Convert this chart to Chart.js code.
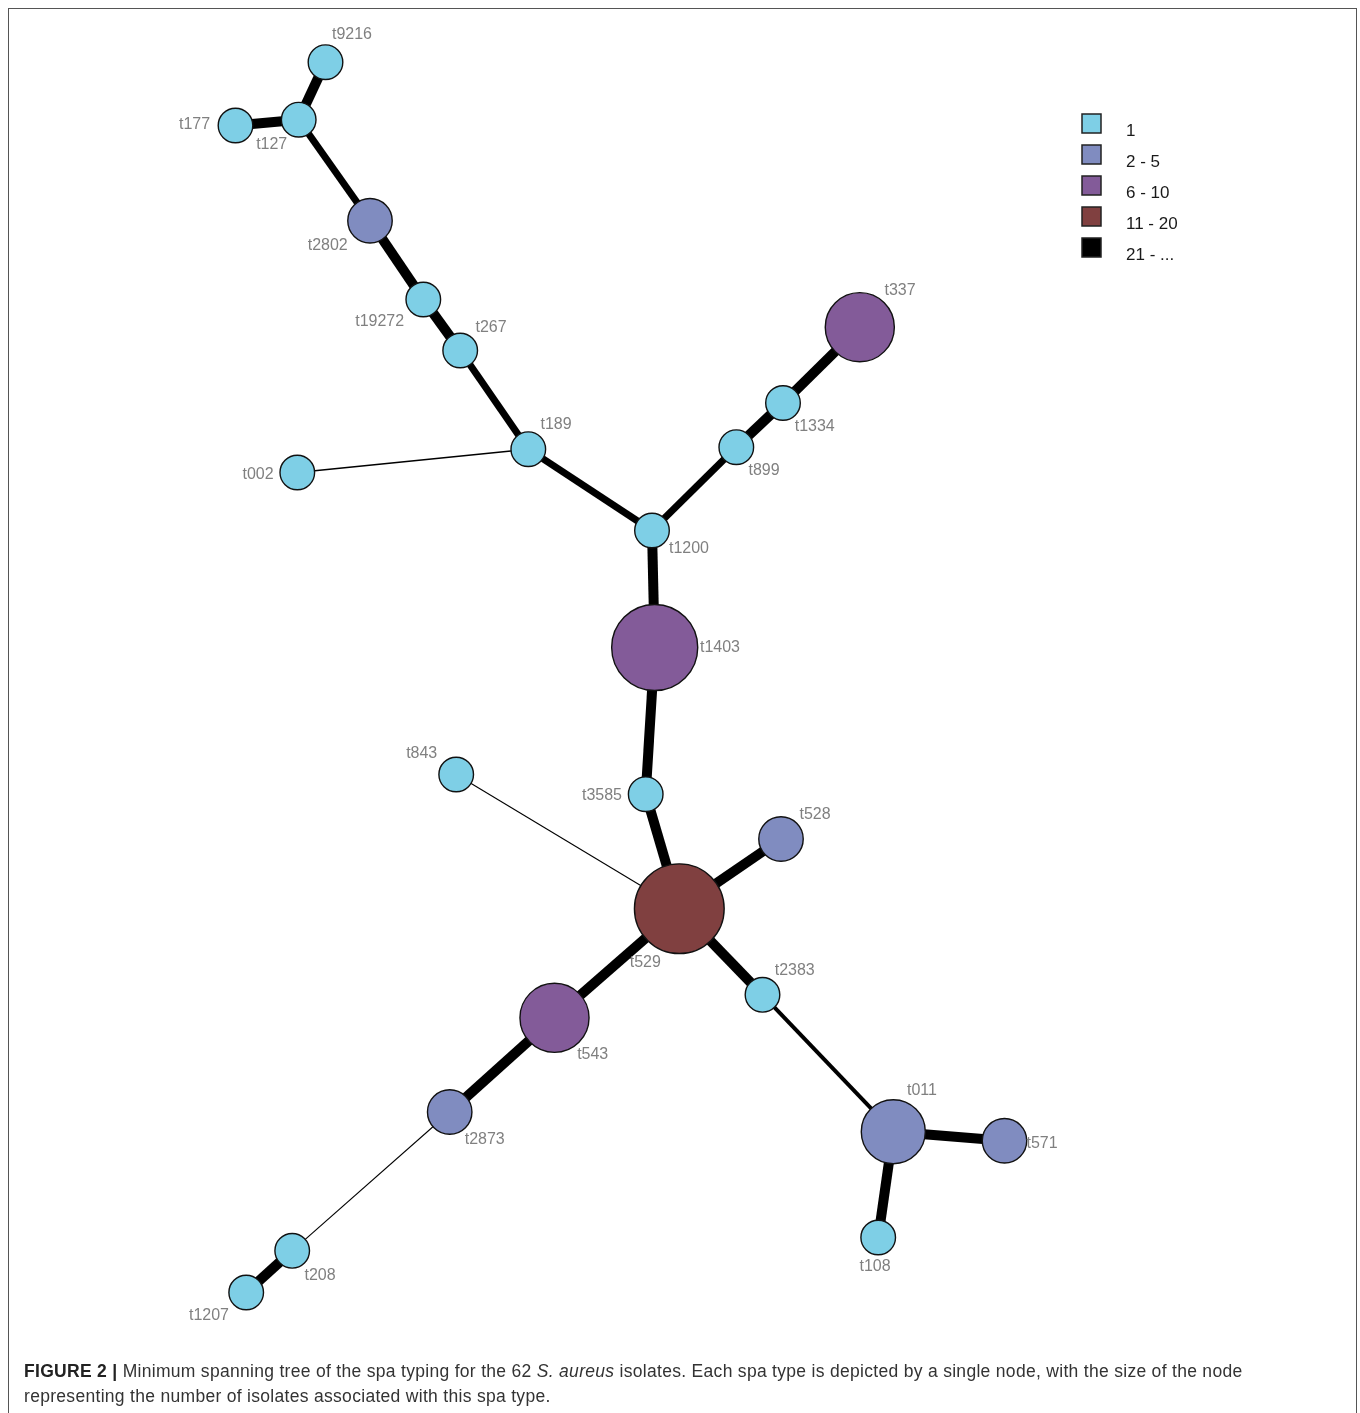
<!DOCTYPE html>
<html>
<head>
<meta charset="utf-8">
<title>Minimum spanning tree of spa types</title>
<script src="https://cdn.jsdelivr.net/npm/chart.js@4.4.1/dist/chart.umd.min.js"></script>
<style>
  html, body { margin: 0; padding: 0; background: #fff; width: 1360px; height: 1413px; overflow: hidden; }
  #frame { position: absolute; left: 8px; top: 8px; width: 1349px; height: 1440px; border: 1.5px solid #555; box-sizing: border-box; }
  #tree { position: absolute; left: 0; top: 0; }
  #caption { position: absolute; left: 24px; top: 1359px; width: 1320px; font-family: "Liberation Sans", Arial, sans-serif; font-size: 17.5px; letter-spacing: 0.3px; line-height: 25px; color: #333; white-space: nowrap; }
  #caption b { font-weight: bold; color: #222; }
</style>
</head>
<body>
<div id="frame"></div>
<canvas id="tree" width="1360" height="1413"></canvas>
<div id="caption"><b>FIGURE 2 |</b> Minimum spanning tree of the spa typing for the 62 <i>S. aureus</i> isolates. Each spa type is depicted by a single node, with the size of the node<br>representing the number of isolates associated with this spa type.</div>
<script>
// spa types (nodes) with their layout coordinates and isolate counts
const nodeNames = ['t9216','t127','t177','t2802','t19272','t267','t189','t002','t1200','t899','t1334','t337',
  't1403','t3585','t843','t529','t528','t2383','t543','t2873','t011','t571','t108','t208','t1207'];
const nodeX = [325.5, 298.7, 235.5, 370, 423.3, 460.2, 528.3, 297.3, 652, 736.3, 783, 859.8,
  654.7, 645.7, 456.2, 679.3, 781, 762.5, 554.5, 449.7, 893.3, 1004.5, 878.2, 292.2, 246.2];
const nodeY = [62.2, 119.7, 125.5, 220.7, 299.5, 350.5, 449.2, 472.5, 530.5, 447.2, 403, 327.2,
  647.5, 794.2, 774.5, 908.7, 839, 994.8, 1017.8, 1112, 1131.7, 1140.8, 1237.5, 1250.8, 1292.5];
const nodeIsolates = [1, 1, 1, 2, 1, 1, 1, 1, 1, 1, 1, 6,
  10, 1, 1, 11, 2, 1, 6, 2, 5, 2, 1, 1, 1];

// tree branches: endpoints and number of repeat differences
const edgeFrom = ['t9216','t127','t127','t2802','t19272','t267','t189','t189','t1200','t899','t1334','t1200',
  't1403','t3585','t843','t529','t529','t529','t543','t2873','t208','t2383','t011','t011'];
const edgeTo = ['t127','t177','t2802','t19272','t267','t189','t002','t1200','t899','t1334','t337','t1403',
  't3585','t529','t529','t528','t2383','t543','t2873','t208','t1207','t011','t571','t108'];
const edgeDiffs = [1, 1, 2, 1, 1, 2, 4, 2, 2, 1, 1, 1,
  1, 1, 5, 1, 1, 1, 1, 5, 1, 3, 1, 1];

// isolate-count classes shown in the legend
const classLabels = ['1', '2 - 5', '6 - 10', '11 - 20', '21 - ...'];
const classUpper = [1, 5, 10, 20, Infinity];

// ---- styling ----
const classColors = ['#7ecfe6', '#808cc0', '#835b99', '#804040', '#000000'];
const branchWidth = {1: 10, 2: 7, 3: 4, 4: 1.6, 5: 1.1};
const labelOffset = {
  t9216: [26.5, -29], t127: [-27, 23.6], t177: [-41, -2.5], t2802: [-42.3, 23.3], t19272: [-43.6, 20.5],
  t267: [30.8, -24.5], t189: [27.7, -26], t002: [-39.3, 0.5], t1200: [37, 17], t899: [27.7, 22.3],
  t1334: [31.7, 22], t337: [40.2, -38.2], t1403: [65.3, -1.2], t3585: [-43.7, 0], t843: [-34.5, -22.8],
  t529: [-34, 52.6], t528: [34, -26], t2383: [32.2, -25.8], t543: [38.2, 35.2], t2873: [35, 26],
  t011: [28.7, -42.7], t571: [37.5, 0.9], t108: [-3.2, 27.5], t208: [27.8, 23.2], t1207: [-37.2, 21.5]
};
const FONT = '"Liberation Sans", Arial, sans-serif';

function classOf(n) { return classUpper.findIndex(u => n <= u); }
function nodeRadius(n) { return 5.4 + 11.9 * Math.sqrt(n); }
const idx = name => nodeNames.indexOf(name);

const nodePoints = nodeNames.map((name, i) => ({ x: nodeX[i], y: nodeY[i], name, n: nodeIsolates[i] }));

const branchSets = edgeFrom.map((a, i) => {
  const p = idx(a), q = idx(edgeTo[i]);
  return {
    type: 'scatter',
    data: [{ x: nodeX[p], y: nodeY[p] }, { x: nodeX[q], y: nodeY[q] }],
    showLine: true,
    borderColor: '#000',
    borderWidth: branchWidth[edgeDiffs[i]],
    borderCapStyle: 'butt',
    pointRadius: 0,
    pointHoverRadius: 0,
    order: 2,
    clip: false
  };
});

const nodeSet = {
  type: 'scatter',
  data: nodePoints,
  pointRadius: ctx => nodeRadius(ctx.raw.n),
  pointHoverRadius: ctx => nodeRadius(ctx.raw.n),
  backgroundColor: ctx => classColors[classOf(ctx.raw.n)],
  hoverBackgroundColor: ctx => classColors[classOf(ctx.raw.n)],
  borderColor: '#111',
  borderWidth: 1.4,
  hoverBorderWidth: 1.4,
  order: 0,
  clip: false
};

const nodeLabels = {
  id: 'nodeLabels',
  afterDatasetsDraw(chart) {
    const { ctx, scales: { x, y } } = chart;
    ctx.save();
    ctx.font = '16px ' + FONT;
    ctx.fillStyle = '#808080';
    ctx.textAlign = 'center';
    ctx.textBaseline = 'alphabetic';
    nodePoints.forEach(p => {
      const off = labelOffset[p.name];
      ctx.fillText(p.name, x.getPixelForValue(p.x) + off[0], y.getPixelForValue(p.y) + off[1] + 5.8);
    });
    ctx.restore();
  }
};

const classLegend = {
  id: 'classLegend',
  afterDraw(chart) {
    const { ctx } = chart;
    ctx.save();
    classLabels.forEach((lab, i) => {
      const top = 114 + i * 31;
      ctx.fillStyle = classColors[i];
      ctx.fillRect(1082, top, 19, 19);
      ctx.strokeStyle = '#222';
      ctx.lineWidth = 1.5;
      ctx.strokeRect(1082, top, 19, 19);
      ctx.fillStyle = '#1a1a1a';
      ctx.font = '17px ' + FONT;
      ctx.textAlign = 'left';
      ctx.textBaseline = 'alphabetic';
      ctx.fillText(lab, 1126, top + 22);
    });
    ctx.restore();
  }
};

new Chart(document.getElementById('tree'), {
  type: 'scatter',
  data: { datasets: [nodeSet, ...branchSets] },
  options: {
    responsive: false,
    animation: false,
    layout: { padding: 0, autoPadding: false },
    events: [],
    scales: {
      x: { type: 'linear', min: 0, max: 1360, display: false },
      y: { type: 'linear', min: 0, max: 1413, reverse: true, display: false }
    },
    plugins: { legend: { display: false }, tooltip: { enabled: false } }
  },
  plugins: [nodeLabels, classLegend]
});
</script>
</body>
</html>
